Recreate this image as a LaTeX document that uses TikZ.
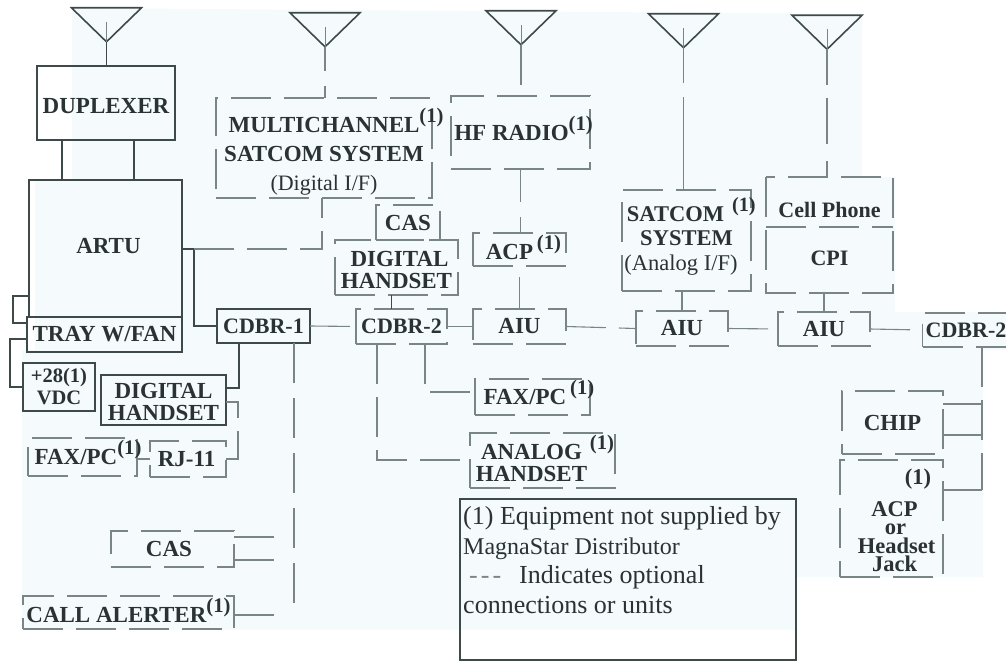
\documentclass[tikz,border=0pt]{standalone}
\usepackage{fontspec}
\setmainfont{Liberation Serif}
\usepackage{tikz}
\usetikzlibrary{shapes.geometric, positioning, calc}
\definecolor{paperblue}{RGB}{245, 251, 253}
\definecolor{darkline}{RGB}{62, 74, 74}
\definecolor{optgray}{RGB}{122, 134, 134}
\definecolor{inkgray}{RGB}{42, 50, 50}
\newcommand{\noteone}{\raisebox{0.42em}[0pt][0pt]{\scalebox{0.9}{(1)}}}
\newcommand{\sink}[1]{\rule{0pt}{#1}}
\newcommand{\lift}[1]{\rule[-#1]{0pt}{#1}}

\begin{document}
\begin{tikzpicture}[
        x=1pt, y=-1pt,
        boxtext/.style={font=\fontsize{23}{27}\selectfont\bfseries, text=inkgray, align=center, inner sep=0pt, outer sep=0pt},
        solidbox/.style={boxtext, rectangle, draw=darkline, line width=1.8pt},
        optbox/.style={boxtext, rectangle, draw=optgray, line width=1.1pt, dash pattern=on 40pt off 13pt},
        plainbox/.style={boxtext, rectangle},
        antenna/.style={isosceles triangle, isosceles triangle apex angle=90, isosceles triangle stretches, shape border rotate=-90, draw=darkline, line width=1.6pt, minimum width=70pt, minimum height=34pt, inner sep=0pt, outer sep=0pt},
        hardline/.style={draw=darkline, line width=1.8pt},
        optline/.style={draw=optgray, line width=1.1pt, dash pattern=on 40pt off 13pt}
    ]
        \useasboundingbox (0,0) rectangle (1006,661);

        % Scanned paper tint
        \fill[paperblue] (72,8) -- (862,14) -- (862,177) -- (895,177) -- (895,312) -- (1006,312) -- (1006,350) -- (983,350) -- (983,577) -- (796,577) -- (796,630) -- (22,630) -- (22,350) -- (35,350) -- (35,180) -- (72,180) -- cycle;

        % Antennas
        \node[antenna] (ant1) at (106.5,22) {};
        \node[antenna] (ant2) at (325,27) {};
        \node[antenna] (ant3) at (521,25) {};
        \node[antenna] (ant4) at (683.5,28) {};
        \node[antenna] (ant5) at (827,29.5) {};

        % Main units
        \node[solidbox, minimum width=138pt, minimum height=74pt] (duplexer) at (106,103) {\sink{21pt}DUPLEXER};
        \node[solidbox, minimum width=153pt, minimum height=137pt] (artu) at (105.5,248.5) {\hspace*{6pt}ARTU\lift{6pt}};
        \node[solidbox, minimum width=155pt, minimum height=35pt] (tray) at (104.5,334.5) {TRAY W/FAN};
        \node[solidbox, minimum width=72pt, minimum height=48pt, font=\fontsize{20.5}{22}\selectfont\bfseries] (vdc) at (59,387) {+28(1)\\VDC};
        \node[solidbox, minimum width=125pt, minimum height=50pt, font=\fontsize{23}{22}\selectfont\bfseries] (handsetb) at (163.5,400) {\sink{19pt}DIGITAL\\HANDSET};
        \node[solidbox, minimum width=93pt, minimum height=34pt, font=\fontsize{22}{27}\selectfont\bfseries] (cdbra) at (263.5,326) {CDBR-1};

        % Optional units, left side
        \node[optbox, minimum width=109pt, minimum height=38pt] (faxa) at (82.5,457) {FAX/PC\rlap{\noteone}\hspace*{13pt}};
        \node[optbox, minimum width=76pt, minimum height=36pt] (rjack) at (188,459) {RJ-11\hspace*{3pt}};
        \node[optbox, minimum width=123pt, minimum height=36pt] (casb) at (172.5,549) {CAS\hspace*{7pt}};
        \node[optbox, minimum width=211pt, minimum height=33pt] (alerter) at (128.5,612.5) {\sink{20pt}CALL ALERTER\noteone};

        % Optional units, middle
        \node[optbox, minimum width=216pt, minimum height=100pt, font=\fontsize{23}{29}\selectfont\bfseries] (multi) at (324,148) {\sink{32pt}MULTICHANNEL\rlap{\noteone}\\SATCOM SYSTEM\\{\fontsize{22}{29}\selectfont\mdseries (Digital I/F)}};
        \node[optbox, minimum width=139pt, minimum height=73pt] (hfradio) at (520.5,132.5) {HF RADIO\rlap{\noteone}\hspace*{18pt}};
        \node[optbox, minimum width=64pt, minimum height=35pt] (casa) at (408,222.5) {CAS};
        \node[optbox, minimum width=123pt, minimum height=55pt, font=\fontsize{23}{22}\selectfont\bfseries] (handseta) at (396.5,267.5) {\sink{20pt}\hspace*{6pt}DIGITAL\\HANDSET};
        \node[optbox, minimum width=91pt, minimum height=35pt, font=\fontsize{22}{27}\selectfont\bfseries] (cdbrb) at (401.5,326.5) {CDBR-2};
        \node[optbox, minimum width=93pt, minimum height=33pt] (acpa) at (519.5,249.5) {\sink{20pt}\hspace*{8pt}ACP\,\noteone};
        \node[optbox, minimum width=93pt, minimum height=35pt] (aiua) at (519.5,326.5) {AIU};
        \node[optbox, minimum width=115pt, minimum height=36pt] (faxb) at (532.5,397) {FAX/PC\rlap{\,\noteone}\hspace*{15pt}};
        \node[optbox, minimum width=145pt, minimum height=55pt, font=\fontsize{23}{22}\selectfont\bfseries] (analog) at (542.5,460.5) {\sink{20pt}ANALOG\rlap{\hspace{8pt}\noteone}\hspace*{22pt}\\HANDSET\hspace*{22pt}};

        % Optional units, right side
        \node[optbox, minimum width=129pt, minimum height=101pt, font=\fontsize{22.5}{24.5}\selectfont\bfseries] (satcom) at (686.5,240.5) {SATCOM\rlap{\hspace{8pt}\noteone}\hspace*{22pt}\\SYSTEM\hspace*{21pt}\\{\fontsize{22.5}{24.5}\selectfont\mdseries (Analog I/F)}\hspace*{11pt}};
        \node[plainbox, minimum width=127pt, minimum height=50pt, font=\fontsize{22}{24}\selectfont\bfseries] (cellphone) at (829.5,202) {\sink{31pt}Cell Phone};
        \node[plainbox, minimum width=127pt, minimum height=66pt, font=\fontsize{22}{24}\selectfont\bfseries] (cpi) at (829.5,260) {CPI\lift{4pt}};
        \draw[optline] (cellphone.north west) rectangle (cpi.south east);
        \draw[optline] (cpi.north west) -- (cpi.north east);
        \node[optbox, minimum width=92pt, minimum height=35pt] (aiub) at (682,328.5) {AIU};
        \node[optbox, minimum width=92pt, minimum height=34pt] (aiuc) at (824,329) {AIU};
        \node[optbox, minimum width=83pt, minimum height=34pt, font=\fontsize{22}{27}\selectfont\bfseries] (cdbrc) at (964.5,330) {\hspace*{3pt}CDBR-2};
        \node[optbox, minimum width=101pt, minimum height=63pt] (chip) at (892.5,422.5) {CHIP};
        \node[optbox, minimum width=103pt, minimum height=117pt, font=\fontsize{22.5}{18.5}\selectfont\bfseries] (jack) at (891.5,518.5) {\sink{20pt}\hspace*{53pt}(1)\\[11pt]\hspace*{6pt}ACP\\\hspace*{8pt}or\\\hspace*{10pt}Headset\\\hspace*{6pt}Jack};

        % Legend
        \node[draw=darkline, line width=1.8pt, rectangle, minimum width=336pt, minimum height=161pt, inner sep=0pt, outer sep=0pt] (legend) at (628,579.5) {};
        \node[anchor=north west, align=left, inner sep=0pt, text=inkgray, font=\fontsize{26}{29.5}\selectfont, xshift=3pt, yshift=-7.5pt] (legendtext) at (legend.north west) {(1) Equipment not supplied by\\{\fontsize{24}{29.5}\selectfont MagnaStar Distributor}\\\hspace*{6pt}{\color{optgray}-\hspace{3pt}-\hspace{3pt}-}\hspace*{18pt}Indicates optional\\connections or units};

        % Turning points
        \coordinate (stuba) at (13,296);
        \coordinate (stubb) at (13,323);
        \coordinate (stubc) at (10,339);
        \coordinate (stubd) at (10,387);
        \coordinate (jogartu) at (194,249);
        \coordinate (jogmulti) at (322,249);
        \coordinate (jogdig) at (239,388);
        \coordinate (jogrj) at (238,402);
        \coordinate (busa) at (294,605);
        \coordinate (jogfax) at (425,392);
        \coordinate (joghand) at (377,460);
        \coordinate (busb) at (982,490);
        \coordinate (casup) at (280,537);
        \coordinate (casdown) at (280,560);
        \coordinate (alert) at (280,615);
        \coordinate (chipup) at (982,404);
        \coordinate (chipdown) at (982,435);

        % Antenna feeds
        \draw[draw=optgray, line width=0.8pt] (ant1.center) -- (ant1.apex);
        \draw[draw=optgray, line width=0.8pt] (ant2.center) -- (ant2.apex);
        \draw[draw=optgray, line width=0.8pt] (ant3.center) -- (ant3.apex);
        \draw[draw=optgray, line width=0.8pt] (ant4.center) -- (ant4.apex);
        \draw[draw=optgray, line width=0.8pt] (ant5.center) -- (ant5.apex);
        \draw[draw=darkline, line width=1.1pt] (ant1.apex) -- (ant1.apex |- duplexer.north);
        \draw[optline, dash pattern=on 24pt off 15pt] (ant2.apex) -- (ant2.apex |- multi.north);
        \draw[optline] (ant3.apex) -- (ant3.apex |- hfradio.north);
        \draw[optline, dash pattern=on 35pt off 14pt on 200pt off 0pt] (ant4.apex) -- (ant4.apex |- satcom.north);
        \draw[optline, dash pattern=on 36pt off 13pt on 46pt off 17pt] (ant5.apex) -- (ant5.apex |- cellphone.north);

        % Solid connections
        \draw[hardline] ([xshift=-44pt]duplexer.south) -- ([xshift=-44pt]duplexer.south |- artu.north);
        \draw[hardline] ([xshift=28pt]duplexer.south) -- ([xshift=28pt]duplexer.south |- artu.north);
        \draw[hardline] (jogartu -| artu.east) -- (jogartu) |- (cdbra.west);
        \draw[hardline] (jogdig |- cdbra.south) -- (jogdig) -- (handsetb.east |- jogdig);
        \draw[hardline, line width=1.4pt] (stuba -| artu.west) -- (stuba) -- (stubb) -- (stubb -| tray.west);
        \draw[hardline, line width=1.4pt] (stubc -| tray.west) -- (stubc) -- (stubd) -- (stubd -| vdc.west);

        % Optional connections
        \draw[optline] (jogartu) -- (jogmulti) -- (jogmulti |- multi.south);
        \draw[optline] (cdbra.east) -- (cdbrb.west);
        \draw[optline] (rjack.east) -| (jogrj) -- (jogrj -| handsetb.east);
        \draw[optline] (faxa.east |- rjack.west) -- (rjack.west);
        \draw[optline, dash pattern=on 40pt off 15pt] (busa |- cdbra.south) -- (busa);
        \draw[optline] (casb.east |- casup) -- (casup);
        \draw[optline] (casb.east |- casdown) -- (casdown);
        \draw[optline] (alerter.east |- alert) -- (alert);
        \draw[optline, dash pattern=on 33pt off 15pt] (hfradio.south) -- (hfradio.south |- acpa.north);
        \draw[optline, dash pattern=on 40pt off 11pt, dash phase=40pt] (acpa.south) -- (aiua.north);
        \draw[draw=darkline, line width=1.4pt] ([xshift=-10pt]cdbrb.north |- handseta.south) -- ([xshift=-10pt]cdbrb.north);
        \draw[optline] (cdbrb.east) -- (aiua.west);
        \draw[optline] (aiua.east) -- (aiub.west);
        \draw[optline] (aiub.east) -- (aiuc.west);
        \draw[optline] (aiuc.east) -- (cdbrc.west);
        \draw[optline] (aiub.north |- satcom.south) -- (aiub.north);
        \draw[optline] (aiuc.north |- cpi.south) -- (aiuc.north);
        \draw[optline] (jogfax |- cdbrb.south) -- (jogfax) -- (jogfax -| faxb.west);
        \draw[optline] (joghand |- cdbrb.south) -- (joghand) -- (joghand -| analog.west);
        \draw[optline] (busb |- cdbrc.south) -- (busb);
        \draw[optline] (chip.east |- chipup) -- (chipup);
        \draw[optline] (chip.east |- chipdown) -- (chipdown);
        \draw[optline] (jack.east |- busb) -- (busb);

    \end{tikzpicture}
\end{document}
